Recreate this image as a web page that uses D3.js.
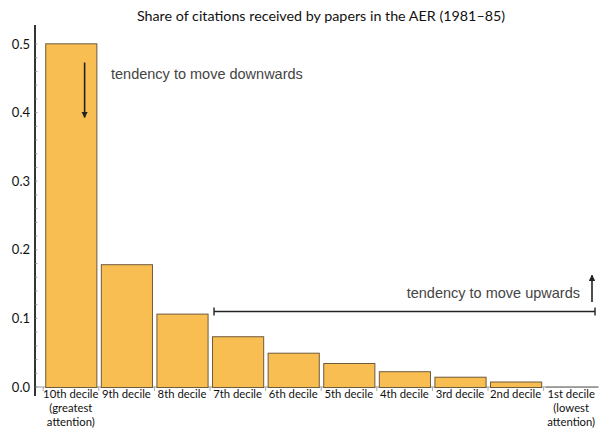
<!DOCTYPE html>
<html>
<head>
<meta charset="utf-8">
<script src="https://cdn.jsdelivr.net/npm/d3@7"></script>
<style>
  html, body { margin: 0; padding: 0; background: #fff; }
  svg { display: block; }
</style>
</head>
<body>
<svg id="chart" width="599" height="430"></svg>
<script>
const categories = ["10th decile", "9th decile", "8th decile", "7th decile", "6th decile",
                    "5th decile", "4th decile", "3rd decile", "2nd decile", "1st decile"];
const subLabels = {"10th decile": ["(greatest", "attention)"], "1st decile": ["(lowest", "attention)"]};
const shares = [0.501, 0.179, 0.107, 0.074, 0.050, 0.035, 0.023, 0.015, 0.008, 0.001];
const yTicks = [0.0, 0.1, 0.2, 0.3, 0.4, 0.5];
const titleText = "Share of citations received by papers in the AER (1981\u201385)";
const downText = "tendency to move downwards";
const upText = "tendency to move upwards";

const svg = d3.select("#chart");
const x = d3.scaleBand().domain(categories).range([43, 599]).paddingInner(0.08).paddingOuter(0.04);
const y = d3.scaleLinear().domain([0, 0.5]).range([387, 44]);

// title
svg.append("text").attr("x", 321).attr("y", 21).attr("text-anchor", "middle")
  .attr("font-family", "Lato, 'Open Sans', sans-serif").attr("font-size", 14.3)
  .attr("fill", "#111").text(titleText);

// baseline
svg.append("line").attr("x1", 35).attr("x2", 599).attr("y1", y(0)).attr("y2", y(0))
  .attr("stroke", "#999").attr("stroke-width", 1);
// small separators below baseline
categories.forEach(c => {
  svg.append("line").attr("x1", x(c) - 2).attr("x2", x(c) - 2)
    .attr("y1", y(0)).attr("y2", y(0) + 4).attr("stroke", "#aaa");
});

// bars
svg.append("g").selectAll("rect").data(categories).join("rect")
  .attr("x", d => x(d) + 0.5)
  .attr("y", (d, i) => y(shares[i]) + 0.5)
  .attr("width", x.bandwidth())
  .attr("height", (d, i) => y(0) - y(shares[i]))
  .attr("fill", "#F9BE52")
  .attr("stroke", (d, i) => i === 9 ? "#999" : "#6e5b3c")
  .attr("stroke-width", 1);

// y axis
const yAxis = d3.axisLeft(y).tickValues(yTicks).tickFormat(d3.format(".1f")).tickSize(0).tickPadding(5);
const ga = svg.append("g").attr("transform", "translate(35,0)").call(yAxis);
ga.select(".domain").remove();
ga.selectAll("text").attr("font-family", "Lato, 'Open Sans', sans-serif").attr("font-size", 13).attr("fill", "#111");
svg.append("line").attr("x1", 35).attr("x2", 35).attr("y1", 25).attr("y2", 396)
  .attr("stroke", "#000").attr("stroke-width", 1.6);
// minor ticks
d3.range(0, 0.52, 0.02).forEach(v => {
  svg.append("line").attr("x1", 35).attr("x2", 37.5).attr("y1", y(v)).attr("y2", y(v))
    .attr("stroke", "#888").attr("stroke-width", 0.8);
});

// category labels
const lab = svg.append("g").attr("font-family", "Lato, 'Open Sans', sans-serif").attr("font-size", 11.3)
  .attr("fill", "#111").attr("text-anchor", "middle");
categories.forEach(c => {
  const cx = x(c) + x.bandwidth() / 2;
  lab.append("text").attr("x", cx).attr("y", 398).text(c);
  (subLabels[c] || []).forEach((s, k) => lab.append("text").attr("x", cx).attr("y", 412 + k * 14).text(s));
});

// arrow marker
const defs = svg.append("defs");
defs.append("marker").attr("id", "ah").attr("viewBox", "0 0 10 10").attr("refX", 9).attr("refY", 5)
  .attr("markerWidth", 4).attr("markerHeight", 4).attr("orient", "auto-start-reverse")
  .append("path").attr("d", "M0,0 L10,5 L0,10 z").attr("fill", "#222");

// down arrow in top bar
const ax = x(categories[0]) + x.bandwidth() * 0.77;
svg.append("line").attr("x1", ax).attr("x2", ax).attr("y1", y(0.473)).attr("y2", y(0.393))
  .attr("stroke", "#222").attr("stroke-width", 1.6).attr("marker-end", "url(#ah)");
svg.append("text").attr("x", 111).attr("y", 79)
  .attr("font-family", "'Liberation Sans', Arial, sans-serif").attr("font-size", 14.5)
  .attr("fill", "#444").text(downText);

// bracket
const by = y(0.11);
const bx1 = x(categories[3]) + 2, bx2 = 595;
svg.append("line").attr("x1", bx1).attr("x2", bx2).attr("y1", by).attr("y2", by).attr("stroke", "#222").attr("stroke-width", 1.4);
[bx1, bx2].forEach(v => svg.append("line").attr("x1", v).attr("x2", v).attr("y1", by - 4).attr("y2", by + 4)
  .attr("stroke", "#222").attr("stroke-width", 1.4));
svg.append("text").attr("x", 580).attr("y", 298).attr("text-anchor", "end")
  .attr("font-family", "'Liberation Sans', Arial, sans-serif").attr("font-size", 14.5)
  .attr("fill", "#444").text(upText);
svg.append("line").attr("x1", 592).attr("x2", 592).attr("y1", y(0.124)).attr("y2", y(0.163))
  .attr("stroke", "#222").attr("stroke-width", 1.6).attr("marker-end", "url(#ah)");
</script>
</body>
</html>
